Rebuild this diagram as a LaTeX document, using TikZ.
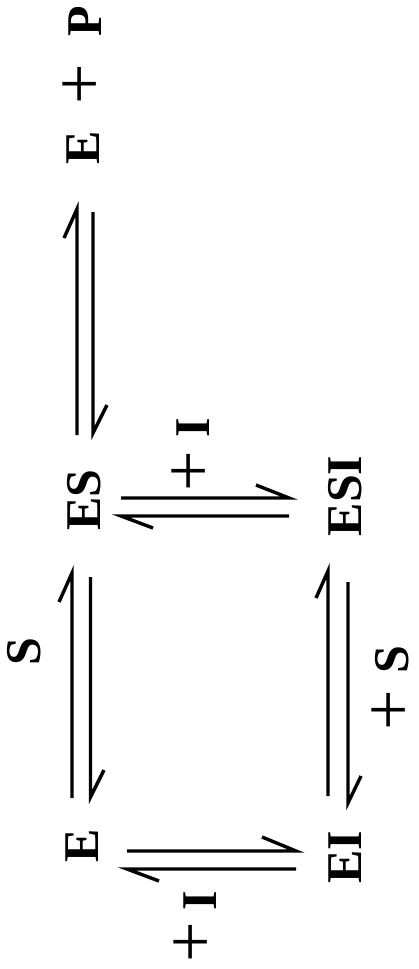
\documentclass[tikz,border=0pt]{standalone}
\usepackage{fontspec}
\setmainfont{Liberation Serif}
\begin{document}
\begin{tikzpicture}[x=1pt,y=-1pt,
  species/.style={inner sep=0pt,rotate=90,font=\fontsize{50}{50}\selectfont\bfseries},
  plussign/.style={inner sep=0pt,rotate=90,font=\fontsize{72}{72}\selectfont},
  rxn/.style={line width=3.4pt,line join=miter,line cap=butt}]
\useasboundingbox (0,0) rectangle (418,969);
% species
\node[species] (E1) at (83.5,148) {E};
\node[plussign] (p1) at (83.5,84) {+};
\node[species] (P) at (85.5,21) {P};
\node[species] (ES) at (84,500) {ES};
\node[species] (ESI) at (345,496) {ESI};
\node[species] (E) at (82,845.5) {E};
\node[species] (EI) at (345,857) {EI};
% labels
\node[species] (lS) at (24.5,652) {S};
\node[plussign] (p2) at (192,471) {+};
\node[species] (lI1) at (193.5,428) {I};
\node[species] (lS2) at (392.5,660) {S};
\node[plussign] (p3) at (392.5,710) {+};
\node[species] (lI2) at (200,900.5) {I};
\node[plussign] (p4) at (194,942) {+};
% arrow end points
\coordinate (a1s) at (77,435); \coordinate (a1t) at (77,209); \coordinate (a1h) at (64,238);
\coordinate (a2s) at (93,212); \coordinate (a2t) at (93,433); \coordinate (a2h) at (107,405);
\coordinate (b1s) at (121,498); \coordinate (b1t) at (289,498); \coordinate (b1h) at (256,485);
\coordinate (b2s) at (289,516); \coordinate (b2t) at (121,516); \coordinate (b2h) at (153,528);
\coordinate (c1s) at (72,798); \coordinate (c1t) at (72,573); \coordinate (c1h) at (59,602);
\coordinate (c2s) at (90.5,577); \coordinate (c2t) at (90.5,797); \coordinate (c2h) at (104,770);
\coordinate (d1s) at (328,796); \coordinate (d1t) at (328,571); \coordinate (d1h) at (316,598);
\coordinate (d2s) at (348,582); \coordinate (d2t) at (348,803); \coordinate (d2h) at (361,776);
\coordinate (e1s) at (127,851); \coordinate (e1t) at (296,851); \coordinate (e1h) at (262,837);
\coordinate (e2s) at (296,869); \coordinate (e2t) at (127,869); \coordinate (e2h) at (159,881);
% arrows (harpoons)
\draw[rxn] (a1s) -- (a1t) -- (a1h);
\draw[rxn] (a2s) -- (a2t) -- (a2h);
\draw[rxn] (b1s) -- (b1t) -- (b1h);
\draw[rxn] (b2s) -- (b2t) -- (b2h);
\draw[rxn] (c1s) -- (c1t) -- (c1h);
\draw[rxn] (c2s) -- (c2t) -- (c2h);
\draw[rxn] (d1s) -- (d1t) -- (d1h);
\draw[rxn] (d2s) -- (d2t) -- (d2h);
\draw[rxn] (e1s) -- (e1t) -- (e1h);
\draw[rxn] (e2s) -- (e2t) -- (e2h);
\end{tikzpicture}
\end{document}
